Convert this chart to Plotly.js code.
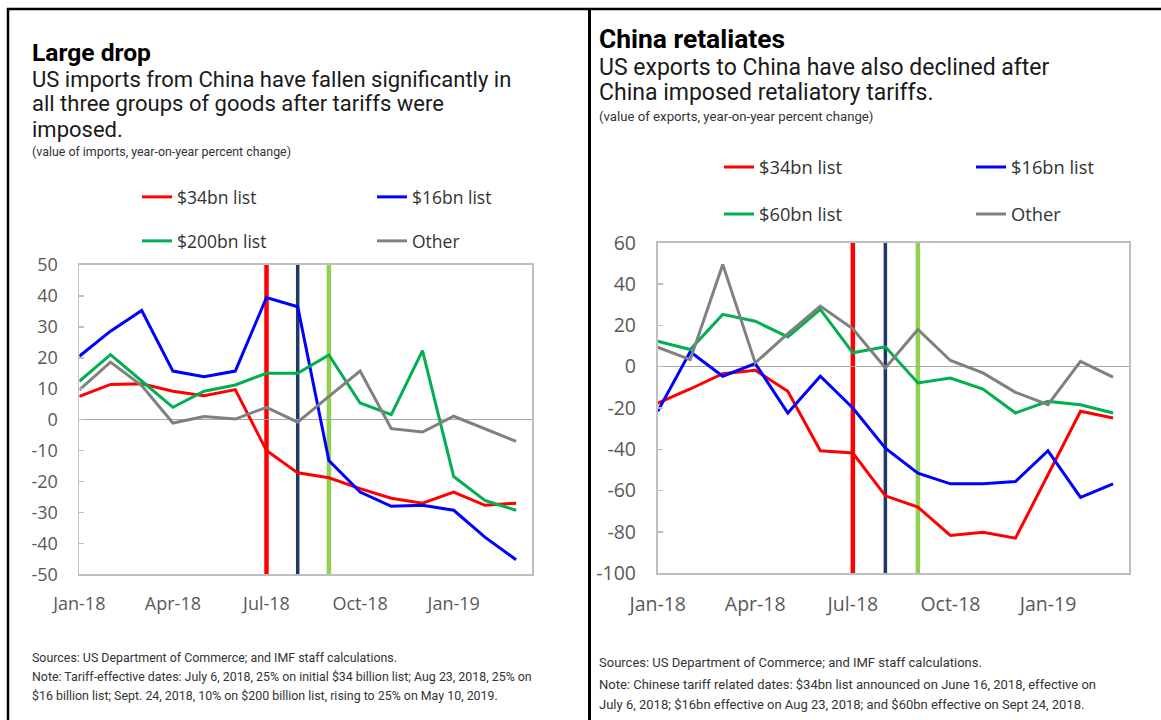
<!DOCTYPE html>
<html>
<head>
<meta charset="utf-8">
<script src="https://cdn.plot.ly/plotly-3.0.1.min.js"></script>
<style>
html,body{margin:0;padding:0;background:#ffffff;overflow:hidden;}
#chart{width:1161px;height:720px;}
</style>
</head>
<body>
<div id="chart"></div>
<script>
// ---------- data ----------
const months = ['Jan-18','Feb-18','Mar-18','Apr-18','May-18','Jun-18','Jul-18','Aug-18','Sep-18','Oct-18','Nov-18','Dec-18','Jan-19','Feb-19','Mar-19'];
const xTickLabels = ['Jan-18','Apr-18','Jul-18','Oct-18','Jan-19'];
const tariffMonths = ['Jul-18','Aug-18','Sep-18'];

// US imports from China (y/y %)
const imp34bn  = [7.5, 11.4, 11.6, 9.2, 7.7, 9.7, -10.0, -17.2, -18.8, -22.3, -25.4, -27.0, -23.4, -27.7, -27.0];
const imp16bn  = [20.5, 28.6, 35.3, 15.7, 13.9, 15.7, 39.5, 36.5, -13.2, -23.4, -28.0, -27.7, -29.3, -38.0, -45.3];
const imp200bn = [12.4, 21.0, 12.5, 4.0, 9.2, 11.2, 15.0, 15.0, 20.9, 5.4, 1.6, 22.3, -18.4, -26.1, -29.3];
const impOther = [9.6, 18.6, 11.0, -1.1, 1.0, 0.2, 4.0, -0.8, 7.5, 15.7, -2.9, -4.0, 1.1, -3.0, -7.0];

// US exports to China (y/y %)
const exp34bn  = [-17.6, -10.8, -3.4, -1.7, -11.9, -40.7, -41.8, -62.5, -68.0, -81.7, -80.1, -83.0, -52.3, -21.6, -24.8];
const exp16bn  = [-21.6, 7.2, -4.6, 1.5, -22.4, -4.6, -20.0, -39.4, -51.5, -56.7, -56.7, -55.6, -40.7, -63.3, -56.7];
const exp60bn  = [12.3, 8.3, 25.3, 22.0, 14.4, 27.7, 6.7, 9.6, -7.9, -5.5, -10.8, -22.4, -16.8, -18.4, -22.4];
const expOther = [9.4, 3.4, 49.5, 1.8, 16.0, 29.3, 18.3, -0.6, 18.0, 3.0, -3.0, -12.4, -18.4, 2.6, -5.1];

const impRange = [-50, 50];
const expRange = [-100, 60];

// ---------- styling ----------
const W = 1161, H = 720;
const px = v => v / W;
const py = v => 1 - v / H;

const C = {red:'#FF0000', blue:'#0000FF', green:'#00B050', grey:'#808080',
           vRed:'#FF0000', vNavy:'#1F3864', vGreen:'#92D050'};
const lineW = 3;

const ff = '"Open Sans","Noto Sans",sans-serif';
const tickFontL = {family: ff, size:18, color:'#595959'};
const tickFontR = {family: ff, size:19.5, color:'#595959'};
const legFontL  = {family: ff, size:17.5, color:'#333333'};
const legFontR  = {family: ff, size:18.3, color:'#333333'};
const titleFontL = {family:'Roboto, sans-serif', size:24.6, color:'#000000'};
const titleFontR = {family:'Roboto, sans-serif', size:26.4, color:'#000000'};
const subFontL  = {family:'Roboto, sans-serif', size:22, color:'#1a1a1a'};
const subFontR  = {family:'Roboto, sans-serif', size:23, color:'#1a1a1a'};
const noteFontL = {family:'Roboto, sans-serif', size:12.4, color:'#333333'};
const noteFontR = {family:'Roboto, sans-serif', size:13.2, color:'#333333'};
const srcFontL  = {family:'Roboto, sans-serif', size:12.4, color:'#333333'};
const srcFontR  = {family:'Roboto, sans-serif', size:13, color:'#333333'};

function trace(y, name, color, xa, ya, legend) {
  return {type:'scatter', mode:'lines', x: months, y: y, name: name,
          line:{color: color, width: lineW}, xaxis: xa, yaxis: ya,
          legend: legend, hoverinfo:'skip'};
}

const data = [
  trace(imp34bn,  '$34bn list',  C.red,   'x',  'y',  'legend'),
  trace(imp16bn,  '$16bn list',  C.blue,  'x',  'y',  'legend'),
  trace(imp200bn, '$200bn list', C.green, 'x',  'y',  'legend2'),
  trace(impOther, 'Other',       C.grey,  'x',  'y',  'legend2'),
  trace(exp34bn,  '$34bn list',  C.red,   'x2', 'y2', 'legend3'),
  trace(exp16bn,  '$16bn list',  C.blue,  'x2', 'y2', 'legend3'),
  trace(exp60bn,  '$60bn list',  C.green, 'x2', 'y2', 'legend4'),
  trace(expOther, 'Other',       C.grey,  'x2', 'y2', 'legend4')
];

const leftX = [px(79.3), px(531.7)], leftY = [py(574.3), py(265)];
const rightX = [px(657.7), px(1129.3)], rightY = [py(573.3), py(242.7)];

function yTicks(range, dtick) {
  const v = [];
  for (let t = range[0]; t <= range[1] + 1e-9; t += dtick) v.push(t);
  return v;
}

function xAxis(domain, anchor, font) {
  return {domain: domain, anchor: anchor, type:'category', categoryorder:'array', categoryarray: months,
          range:[0, 14.5], tickmode:'array', tickvals: xTickLabels, ticks:'',
          showline:true, mirror:true, linecolor:'#BFBFBF', linewidth:1.8,
          showgrid:false, zeroline:false, tickfont: font, ticklabelstandoff: 12, fixedrange:true};
}
function yAxis(domain, anchor, range, dtick, font) {
  const tv = yTicks(range, dtick);
  return {domain: domain, anchor: anchor, range: range,
          tickmode:'array', tickvals: tv, ticktext: tv.map(String),
          ticks:'inside', ticklen:5, tickwidth:1.5, tickcolor:'#BFBFBF',
          showline:true, mirror:true, linecolor:'#BFBFBF', linewidth:1.8,
          showgrid:false, zeroline:true, zerolinecolor:'#A6A6A6', zerolinewidth:1.6,
          tickfont: font, ticklabelstandoff: 16, fixedrange:true};
}
// small ticks sitting on the zero line (category axis crosses at 0)
function zeroTickAxis(over, domainY, range) {
  const pos = domainY[0] + (0 - range[0]) / (range[1] - range[0]) * (domainY[1] - domainY[0]);
  return {overlaying: over, anchor:'free', position: pos, side:'bottom', type:'category',
          categoryorder:'array', categoryarray: months, range:[0, 14.5],
          tickmode:'array', tickvals: xTickLabels, showticklabels:false,
          ticks:'inside', ticklen:5, tickwidth:1.5, tickcolor:'#A6A6A6',
          showline:false, showgrid:false, zeroline:false, fixedrange:true};
}

const shapes = [];
// tariff date markers
const vColors = [C.vRed, C.vNavy, C.vGreen];
const vWidths = [4.5, 3.5, 4.5];
[['x','y'], ['x2','y2']].forEach(([xa, ya]) => {
  tariffMonths.forEach((m, i) => {
    const xi = months.indexOf(m);
    shapes.push({type:'line', xref: xa, yref: ya + ' domain', x0: xi, x1: xi, y0: 0, y1: 1,
                 line:{color: vColors[i], width: vWidths[i]}, layer:'below'});
  });
});
// panel frames
shapes.push({type:'line', xref:'paper', yref:'paper', x0: px(7), x1: px(1161), y0: py(9), y1: py(9), line:{color:'#000', width:2.5}});
shapes.push({type:'line', xref:'paper', yref:'paper', x0: px(8), x1: px(8), y0: py(8), y1: py(720), line:{color:'#000', width:2.5}});
shapes.push({type:'line', xref:'paper', yref:'paper', x0: px(589.5), x1: px(589.5), y0: py(8), y1: py(720), line:{color:'#000', width:3}});

function txt(text, x, y, font) {
  return {text: text, xref:'paper', yref:'paper', x: px(x), y: py(y), xanchor:'left', yanchor:'middle',
          showarrow:false, font: font, align:'left', borderpad:0};
}
const annotations = [
  txt('<b>Large drop</b>', 31, 53, titleFontL),
  txt('US imports from China have fallen significantly in', 31, 79, subFontL),
  txt('all three groups of goods after tariffs were', 31, 104, subFontL),
  txt('imposed.', 31, 129, subFontL),
  txt('(value of imports, year-on-year percent change)', 31, 151, noteFontL),
  txt('Sources: US Department of Commerce; and IMF staff calculations.', 31, 657, srcFontL),
  txt('Note: Tariff-effective dates: July 6, 2018, 25% on initial $34 billion list; Aug 23, 2018, 25% on', 31, 676, srcFontL),
  txt('$16 billion list; Sept. 24, 2018, 10% on $200 billion list, rising to 25% on May 10, 2019.', 31, 695, srcFontL),

  txt('<b>China retaliates</b>', 598, 39, titleFontR),
  txt('US exports to China have also declined after', 598, 67, subFontR),
  txt('China imposed retaliatory tariffs.', 598, 93, subFontR),
  txt('(value of exports, year-on-year percent change)', 598, 117, noteFontR),
  txt('Sources: US Department of Commerce; and IMF staff calculations.', 598, 662, srcFontR),
  txt('Note: Chinese tariff related dates: $34bn list announced on June 16, 2018, effective on', 598, 684, srcFontR),
  txt('July 6, 2018; $16bn effective on Aug 23, 2018; and $60bn effective on Sept 24, 2018.', 598, 704, srcFontR)
];

function legendAt(x, y, entryW, font) {
  return {orientation:'h', x: px(x), xanchor:'left', y: py(y), yanchor:'middle',
          entrywidth: entryW, entrywidthmode:'pixels', font: font,
          bgcolor:'rgba(0,0,0,0)', borderwidth:0, traceorder:'normal'};
}

const layout = {
  width: W, height: H,
  margin:{l:0, r:0, t:0, b:0, autoexpand:false},
  paper_bgcolor:'#ffffff', plot_bgcolor:'#ffffff',
  showlegend: true,
  xaxis: xAxis(leftX, 'y', tickFontL),
  yaxis: yAxis(leftY, 'x', impRange, 10, tickFontL),
  xaxis2: xAxis(rightX, 'y2', tickFontR),
  yaxis2: yAxis(rightY, 'x2', expRange, 20, tickFontR),
  xaxis3: zeroTickAxis('x', leftY, impRange),
  xaxis4: zeroTickAxis('x2', rightY, expRange),
  legend:  legendAt(137, 197, 190, legFontL),
  legend2: legendAt(137, 241, 190, legFontL),
  legend3: legendAt(719, 167, 207, legFontR),
  legend4: legendAt(719, 214, 207, legFontR),
  shapes: shapes,
  annotations: annotations
};

Plotly.newPlot('chart', data, layout, {displayModeBar:false, staticPlot:true});
</script>
</body>
</html>
